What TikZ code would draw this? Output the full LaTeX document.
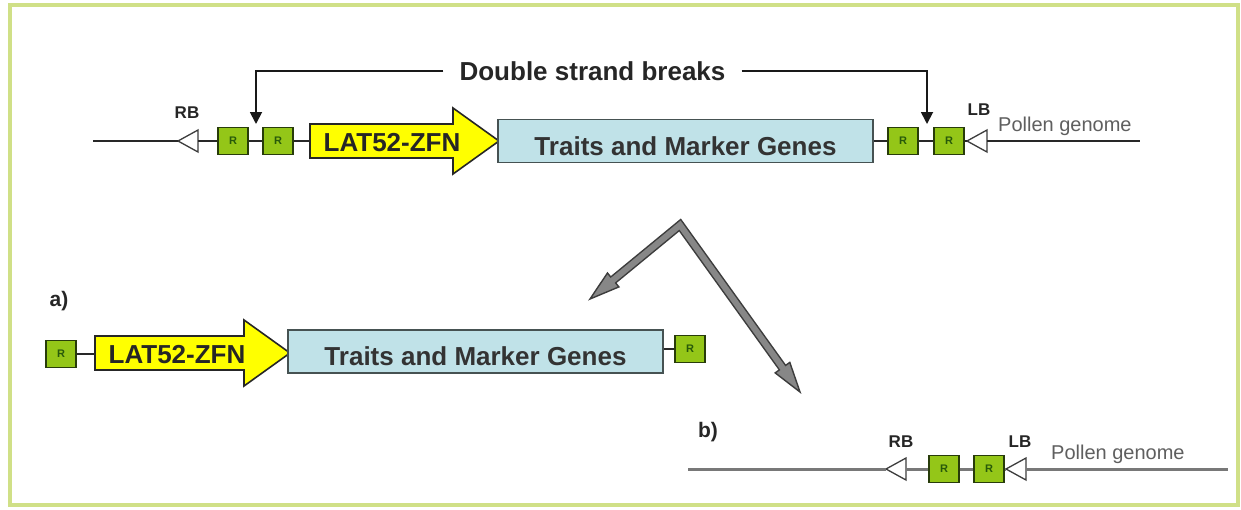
\documentclass[tikz,border=0pt]{standalone}
\usepackage{fontspec}
\setmainfont{Liberation Sans}
\usetikzlibrary{calc,arrows.meta}
\definecolor{frameg}{RGB}{208,224,135}
\definecolor{rfill}{RGB}{148,198,24}
\definecolor{rdraw}{RGB}{40,60,10}
\definecolor{rtext}{RGB}{40,90,10}
\definecolor{zfnfill}{RGB}{255,255,0}
\definecolor{cyanfill}{RGB}{192,226,232}
\definecolor{cyandraw}{RGB}{70,82,82}
\definecolor{gfill}{RGB}{135,135,135}
\definecolor{gdark}{RGB}{60,60,60}
\definecolor{dnacol}{RGB}{40,40,40}
\definecolor{dnab}{RGB}{120,120,120}
\definecolor{pollencol}{RGB}{95,95,95}
\newcommand{\zfnarrow}[4]{%
  \draw[zfnshape] (#2,#3-17) -- (#4-46,#3-17) -- (#4-46,#3-33) -- (#4,#3) -- (#4-46,#3+33) -- (#4-46,#3+17) -- (#2,#3+17) -- cycle;
  \coordinate (#1w) at (#2,#3);
  \node[zfntext] (#1) at (#2+82,#3+1.5) {LAT52-ZFN};}
\newcommand{\bordertri}[3]{%
  \coordinate (#1tip) at (#2,#3);
  \coordinate (#1base) at (#2+20,#3);
  \draw[tri] (#2,#3) -- (#2+20,#3-11) -- (#2+20,#3+11) -- cycle;}
\begin{document}
\begin{tikzpicture}[x=1pt,y=-1pt,
  rbox/.style={draw=rdraw, fill=rfill, line width=1.4pt, minimum width=30pt, minimum height=27pt, inner sep=0pt, text=rtext, font=\fontsize{11}{11}\selectfont\bfseries},
  zfnshape/.style={draw=black!85, fill=zfnfill, line width=1.6pt, line join=miter},
  zfntext/.style={font=\fontsize{26}{30}\selectfont\bfseries, text=black!85, inner sep=0pt},
  genes/.style={draw=cyandraw, fill=cyanfill, line width=1.6pt, minimum width=375pt, minimum height=43pt, inner sep=0pt, text height=28pt, text depth=0pt, font=\fontsize{26}{30}\selectfont\bfseries, text=black!80},
  tri/.style={draw=gdark, fill=white, line width=1.3pt, line join=miter},
  dna/.style={draw=dnacol, line width=1.8pt},
  dnab/.style={draw=dnab, line width=3pt},
  lbl/.style={font=\fontsize{17}{20}\selectfont\bfseries, text=black!85, inner sep=0pt},
  pollen/.style={font=\fontsize{20}{24}\selectfont, text=pollencol, inner sep=0pt, anchor=west},
  part/.style={font=\fontsize{21}{24}\selectfont\bfseries, text=black!85, inner sep=0pt},
  brk/.style={draw=black!90, line width=1.8pt, -{Triangle[length=12pt,width=12pt]}},
  dsbtext/.style={font=\fontsize{26}{30}\selectfont\bfseries, text=black!85, inner sep=0pt}]
\useasboundingbox (0,0) rectangle (1241,509);
\fill[white] (0,0) rectangle (1241,509);
\draw[frameg, line width=4pt] (10,5) rectangle (1238,505);

% ---------- top construct ----------
\coordinate (t0) at (93,141);
\coordinate (t1) at (1140,141);
\bordertri{rb}{178}{141}
\node[rbox] (r1) at (233,141) {R};
\node[rbox] (r2) at (278,141) {R};
\zfnarrow{zfn}{310}{141}{499}
\node[genes] (genes) at (685.5,141) {Traits and Marker Genes};
\node[rbox] (r3) at (903,141) {R};
\node[rbox] (r4) at (949,141) {R};
\bordertri{lb}{967}{141}
\draw[dna] (t0) -- (rbtip);
\draw[dna] (rbbase) -- (r1.west);
\draw[dna] (r1.east) -- (r2.west);
\draw[dna] (r2.east) -- (zfnw);
\draw[dna] (genes.east) -- (r3.west);
\draw[dna] (r3.east) -- (r4.west);
\draw[dna] (r4.east) -- (lbtip);
\draw[dna] (lbbase) -- (t1);
\node[lbl] (rblbl) at (187,113) {RB};
\node[lbl] (lblbl) at (979,110) {LB};
\node[pollen] (pollen1) at (998,126) {Pollen genome};

% double strand breaks
\node[dsbtext] (dsb) at (592.5,71) {Double strand breaks};
\coordinate (brk1) at (256,124);
\coordinate (brk2) at (927,124);
\draw[brk] ([xshift=-16pt]dsb.west) -| (brk1);
\draw[brk] ([xshift=16pt]dsb.east) -| (brk2);

% ---------- grey split arrows ----------
\coordinate (V) at (680,225);
\coordinate (A1) at (590,299);
\coordinate (A2) at (800,392);
\coordinate (B1) at ($(A1)!30pt!(V)$);
\coordinate (B2) at ($(A2)!30pt!(V)$);
\draw[gdark, line width=9pt, line join=miter] (B1) -- (V) -- (B2);
\filldraw[fill=gfill, draw=gdark, line width=1.4pt, line join=miter] (A1) -- ($(B1)!9pt!90:(A1)$) -- ($(B1)!9pt!-90:(A1)$) -- cycle;
\filldraw[fill=gfill, draw=gdark, line width=1.4pt, line join=miter] (A2) -- ($(B2)!9pt!90:(A2)$) -- ($(B2)!9pt!-90:(A2)$) -- cycle;
\draw[gfill, line width=6pt, line join=miter] ($(A1)!27pt!(V)$) -- (V) -- ($(A2)!27pt!(V)$);

% ---------- a) ----------
\node[part] (pa) at (59,301) {a)};
\node[rbox] (ra1) at (61,354) {R};
\zfnarrow{zfnb}{95}{353}{290}
\node[genes] (genesb) at (475.5,351.5) {Traits and Marker Genes};
\node[rbox] (ra2) at (690,349) {R};
\draw[dna] (ra1.east) -- (ra1.east -| zfnbw);
\draw[dna] (genesb.east |- ra2) -- (ra2.west);

% ---------- b) ----------
\node[part] (pb) at (708,432) {b)};
\coordinate (b0) at (688,469);
\coordinate (b1) at (1228,469);
\bordertri{rbb}{886}{469}
\node[rbox] (rb1) at (944,469) {R};
\node[rbox] (rb2) at (989,469) {R};
\bordertri{lbb}{1006}{469}
\draw[dnab] (b0) -- (rbbtip);
\draw[dnab] (rbbbase) -- (rb1.west);
\draw[dnab] (rb1.east) -- (rb2.west);
\draw[dnab] (rb2.east) -- (lbbtip);
\draw[dnab] (lbbbase) -- (b1);
\node[lbl] (rbblbl) at (901,442) {RB};
\node[lbl] (lbblbl) at (1020,442) {LB};
\node[pollen] (pollen2) at (1051,454) {Pollen genome};
\end{tikzpicture}
\end{document}
